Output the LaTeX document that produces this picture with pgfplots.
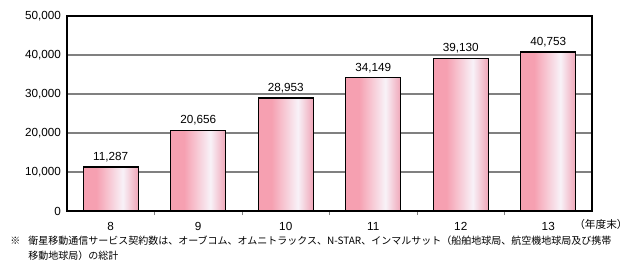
\documentclass[border=0pt]{standalone}
\usepackage{pgfplots}
\pgfplotsset{compat=1.18}
\usepackage{fontspec}
\setmainfont{Noto Sans CJK JP}
\newfontfamily\numfont{Liberation Sans}
\definecolor{pinkL}{RGB}{246,160,177}
\definecolor{pinkR}{RGB}{240,166,184}
\definecolor{whiteP}{RGB}{248,242,248}
\definecolor{gridgray}{RGB}{128,128,128}
\pgfdeclarehorizontalshading{barshade}{100bp}{color(0bp)=(pinkL); color(25bp)=(pinkL); color(37bp)=(pinkL); color(61bp)=(whiteP); color(75bp)=(pinkR); color(100bp)=(pinkR)}
\begin{document}
\begin{tikzpicture}[x=0.75pt,y=0.75pt]
\path[use as bounding box,fill=white] (0,0) rectangle (628,268);
\begin{axis}[
  at={(50.25pt,42.75pt)}, anchor=south west,
  width=393.75pt, height=146.25pt, scale only axis,
  xmin=-0.5, xmax=5.5, ymin=0, ymax=50000,
  xtick={0,1,2,3,4,5},
  xticklabels={8,9,10,11,12,13},
  minor xtick={0.5,1.5,2.5,3.5,4.5},
  major x tick style={draw=none},
  minor tick length=3pt,
  tick align=inside,
  xtick pos=bottom,
  ytick={0,10000,20000,30000,40000,50000},
  ytick style={draw=none},
  ymajorgrids, grid style={gridgray, line width=0.8pt},
  axis line style={line width=0.9pt},
  scaled y ticks=false,
  /pgf/number format/.cd, fixed, 1000 sep={,}, assume math mode=true,
  /pgfplots/.cd,
  ticklabel style={font=\numfont\fontsize{8.8}{10}\selectfont},
  yticklabel style={xshift=-1pt},
  xticklabel style={yshift=-1pt},
  ybar, bar width=41.25pt, bar shift=0pt,
  nodes near coords,
  every node near coord/.append style={font=\numfont\fontsize{8.8}{10}\selectfont, black},
  clip=false,
]
\addplot[shading=barshade, draw=black, line width=1pt] coordinates {(0,11287)};
\addplot[shading=barshade, draw=black, line width=1pt] coordinates {(1,20656)};
\addplot[shading=barshade, draw=black, line width=1pt] coordinates {(2,28953)};
\addplot[shading=barshade, draw=black, line width=1pt] coordinates {(3,34149)};
\addplot[shading=barshade, draw=black, line width=1pt] coordinates {(4,39130)};
\addplot[shading=barshade, draw=black, line width=1pt] coordinates {(5,40753)};
\end{axis}
\node[anchor=west, font=\fontsize{8}{10}\selectfont, inner sep=0] at (574,44) {（年度末）};
\node[anchor=north west, font=\fontsize{7.5}{11.25}\selectfont, inner sep=0, align=left] at (10,32) {※\hspace{6pt}衛星移動通信サービス契約数は、オーブコム、オムニトラックス、N-STAR、インマルサット（船舶地球局、航空機地球局及び携帯\\\hspace{13.5pt}移動地球局）の総計};
\end{tikzpicture}
\end{document}
